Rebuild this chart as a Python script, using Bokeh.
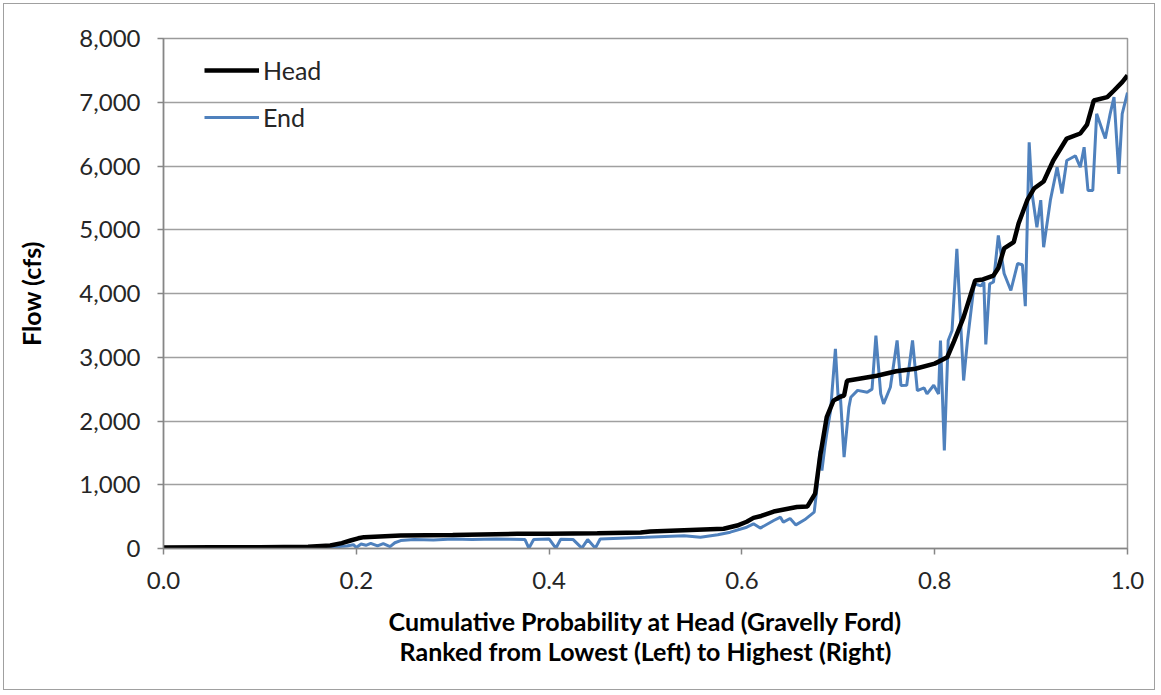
from bokeh.plotting import figure
from bokeh.models import Range1d, NumeralTickFormatter, FixedTicker, Legend, LegendItem
from bokeh.embed import file_html
from bokeh.resources import INLINE

# ---- data ----
head_p = [0.0, 0.05, 0.10, 0.15, 0.173, 0.185, 0.194, 0.202, 0.208, 0.246, 0.30, 0.367,
          0.40, 0.45, 0.495, 0.505, 0.54, 0.581, 0.595, 0.605, 0.612, 0.62, 0.633, 0.645,
          0.657, 0.668, 0.676, 0.681, 0.688, 0.695, 0.702, 0.706, 0.709, 0.72, 0.74, 0.76,
          0.78, 0.80, 0.813, 0.82, 0.83, 0.842, 0.85, 0.861, 0.866, 0.872, 0.882, 0.887,
          0.896, 0.903, 0.913, 0.923, 0.937, 0.951, 0.958, 0.965, 0.979, 0.986, 0.9945, 1.0]
head_flow = [15, 18, 20, 28, 47, 85, 125, 160, 178, 204, 212, 230,
             232, 240, 250, 265, 285, 309, 360, 420, 480, 510, 580, 615,
             650, 660, 862, 1432, 2060, 2320, 2380, 2400, 2630, 2660, 2710, 2780,
             2820, 2900, 3000, 3250, 3630, 4204, 4220, 4282, 4400, 4706, 4805, 5098,
             5464, 5647, 5757, 6086, 6431, 6510, 6650, 7027, 7080, 7184, 7315, 7420]

end_p = [0.0, 0.10, 0.17, 0.19, 0.197, 0.200, 0.205, 0.21, 0.215, 0.222, 0.228, 0.235,
         0.24, 0.246, 0.26, 0.28, 0.30, 0.32, 0.345, 0.36, 0.375, 0.379, 0.384, 0.40,
         0.407, 0.412, 0.425, 0.434, 0.44, 0.448, 0.453, 0.48, 0.50, 0.54, 0.557, 0.575,
         0.588, 0.605, 0.612, 0.619, 0.633, 0.640, 0.643, 0.650, 0.656, 0.665, 0.675, 0.678,
         0.681, 0.683, 0.686, 0.688, 0.692, 0.697, 0.700, 0.702, 0.706, 0.711, 0.713, 0.72,
         0.73, 0.735, 0.739, 0.744, 0.747, 0.754, 0.761, 0.765, 0.771, 0.777, 0.782, 0.789,
         0.792, 0.799, 0.804, 0.806, 0.810, 0.814, 0.818, 0.823, 0.830, 0.834, 0.841, 0.848,
         0.851, 0.853, 0.857, 0.861, 0.866, 0.872, 0.879, 0.886, 0.891, 0.894, 0.898, 0.901,
         0.906, 0.910, 0.913, 0.920, 0.927, 0.932, 0.937, 0.946, 0.951, 0.955, 0.959, 0.964,
         0.968, 0.974, 0.977, 0.982, 0.986, 0.991, 0.9945, 1.0]
end_flow = [10, 12, 20, 40, 60, 15, 70, 50, 80, 40, 75, 30,
            90, 125, 140, 135, 150, 140, 150, 145, 140, 5, 140, 150,
            5, 145, 140, 5, 140, 5, 150, 165, 175, 200, 178, 215,
            256, 334, 387, 320, 439, 491, 413, 470, 370, 450, 570, 962,
            1537, 1223, 1590, 1800, 2165, 3132, 2320, 2425, 1432, 2216, 2373, 2480,
            2450, 2500, 3341, 2425, 2269, 2530, 3263, 2557, 2560, 3263, 2478, 2520,
            2425, 2560, 2425, 3263, 1537, 3263, 3420, 4701, 2635, 3263, 4152, 4120,
            4180, 3200, 4150, 4180, 4910, 4313, 4047, 4470, 4450, 3800, 6373, 5568,
            5040, 5464, 4726, 5464, 5981, 5568, 6086, 6160, 5981, 6295, 5616, 5616,
            6818, 6557, 6431, 6818, 7080, 5877, 6818, 7150]

x_ticks = [0.0, 0.2, 0.4, 0.6, 0.8, 1.0]
y_ticks = [0, 1000, 2000, 3000, 4000, 5000, 6000, 7000, 8000]

FONT = "Lato"

p = figure(output_backend="svg", toolbar_location=None,
           frame_width=964, frame_height=510,
           min_border_left=163, min_border_top=38, min_border_right=31, min_border_bottom=145,
           x_range=Range1d(0, 1), y_range=Range1d(0, 8000),
           background_fill_color="white", border_fill_color=None)
p.styles = {"outline": "1px solid #A0A0A0", "outline-offset": "-4px", "background-color": "white"}

p.outline_line_color = "#9A9A9A"
p.outline_line_width = 1.5

r_end = p.line(end_p, end_flow, line_color="#4F81BD", line_width=3)
r_head = p.line(head_p, head_flow, line_color="black", line_width=4.5)

p.xgrid.visible = False
p.ygrid.grid_line_color = "#A0A0A0"
p.ygrid.grid_line_width = 1.5

p.xaxis.ticker = FixedTicker(ticks=x_ticks)
p.yaxis.ticker = FixedTicker(ticks=y_ticks)
p.xaxis.formatter = NumeralTickFormatter(format="0.0")
p.yaxis.formatter = NumeralTickFormatter(format="0,0")

for ax in (p.xaxis, p.yaxis):
    ax.axis_line_color = "#868686"
    ax.axis_line_width = 1.5
    ax.major_tick_line_color = "#868686"
    ax.major_tick_line_width = 1.5
    ax.major_tick_out = 6
    ax.major_tick_in = 0
    ax.minor_tick_line_color = None
    ax.major_label_text_font = FONT
    ax.major_label_text_font_size = "24px"
    ax.major_label_text_color = "#262626"
    ax.axis_label_text_font = FONT
    ax.axis_label_text_font_style = "bold"
    ax.axis_label_text_font_size = "25px"
    ax.axis_label_text_color = "black"

p.yaxis.axis_label = "Flow (cfs)"
p.yaxis.major_label_standoff = 17
p.yaxis.axis_label_standoff = 30
p.xaxis.axis_label = "Cumulative Probability at Head (Gravelly Ford)\nRanked from Lowest (Left) to Highest (Right)"
p.xaxis.major_label_standoff = 17
p.xaxis.axis_label_standoff = 14
p.xaxis.axis_label_text_line_height = 1.0

legend = Legend(items=[LegendItem(label="Head", renderers=[r_head]),
                       LegendItem(label="End", renderers=[r_end])],
                location=(41, 416), orientation="vertical",
                background_fill_alpha=0, border_line_color=None,
                glyph_width=55, glyph_height=30, label_height=30, label_standoff=4,
                spacing=17, padding=10, margin=0,
                label_text_font=FONT, label_text_font_size="25px", label_text_color="#262626")
p.add_layout(legend, "center")

open("out.html", "w").write(file_html(p, INLINE))
